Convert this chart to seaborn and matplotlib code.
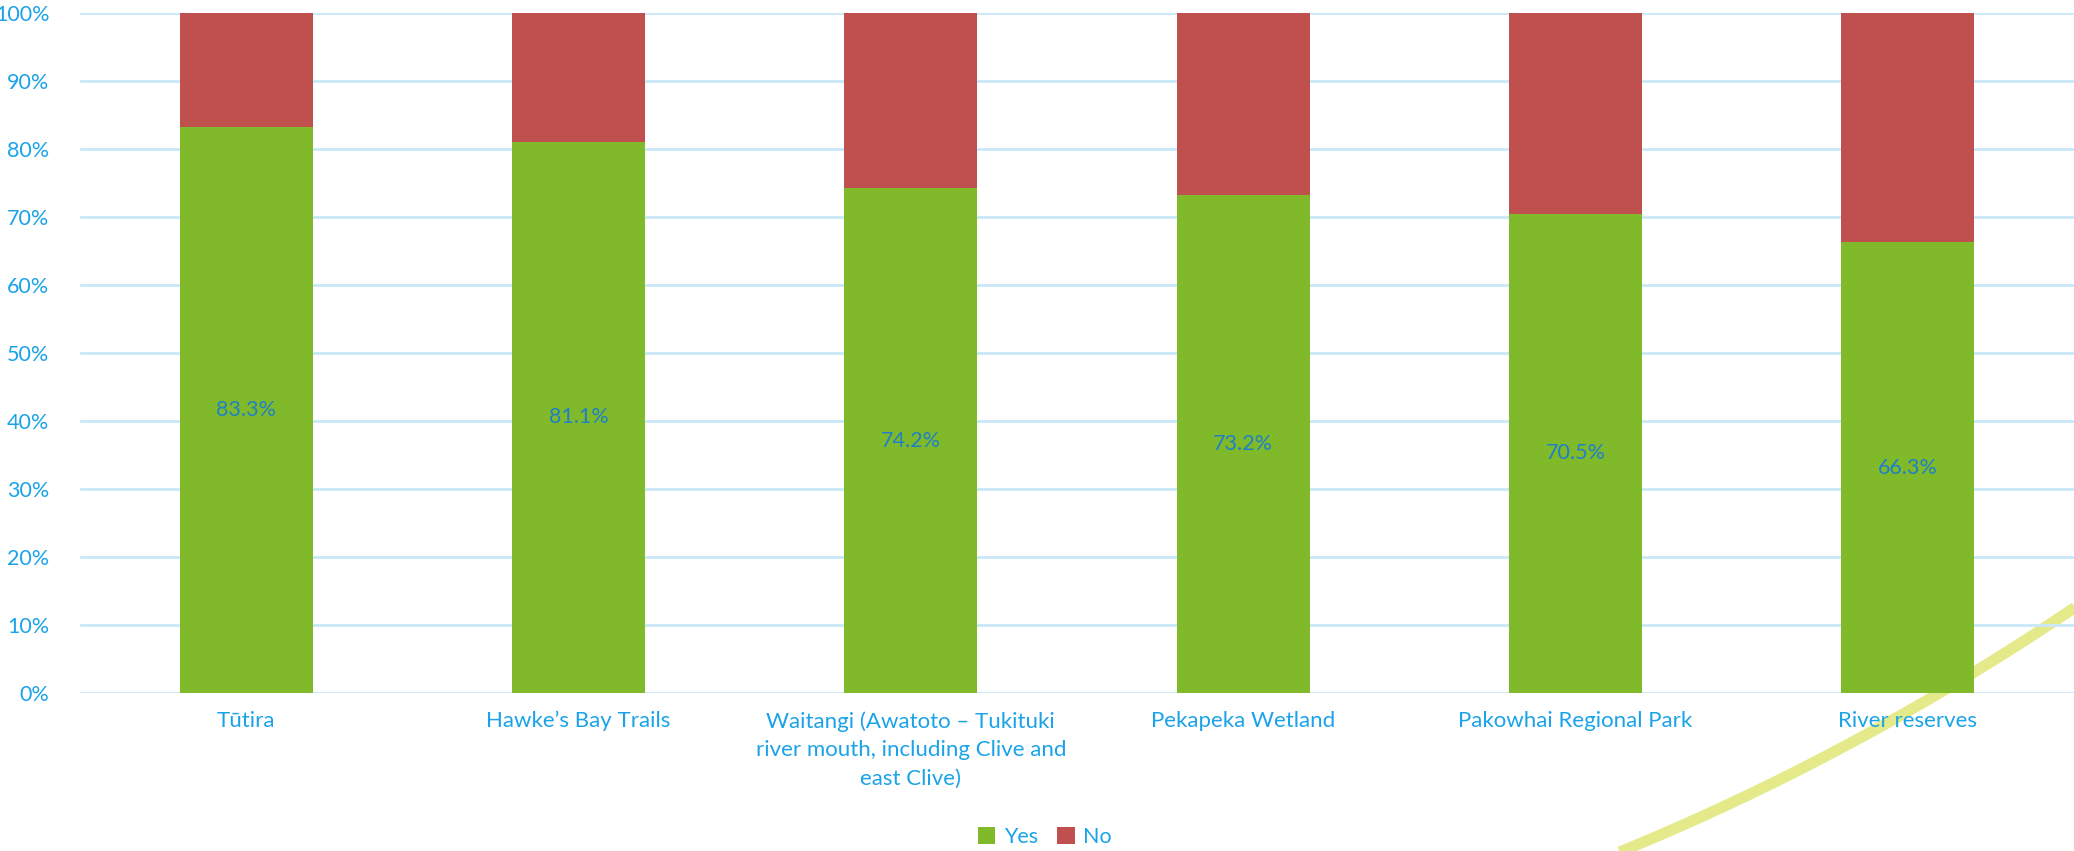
import matplotlib
matplotlib.use("Agg")
import matplotlib.pyplot as plt
from matplotlib.lines import Line2D
from matplotlib.patches import Patch
import seaborn as sns
import pandas as pd
import numpy as np

categories = [
    "Tūtira",
    "Hawke\u2019s Bay Trails",
    "Waitangi (Awatoto \u2013 Tukituki\nriver mouth, including Clive and\neast Clive)",
    "Pekapeka Wetland",
    "Pakowhai Regional Park",
    "River reserves",
]
yes_vals = [83.3, 81.1, 74.2, 73.2, 70.5, 66.3]
no_vals = [round(100 - v, 1) for v in yes_vals]
yticks = [0, 10, 20, 30, 40, 50, 60, 70, 80, 90, 100]

GREEN = "#80b929"
RED = "#c0504d"
BLUE = "#1aa3e8"
LABEL_BLUE = "#1f80c8"
GRID = "#c9e8f8"

sns.set_theme(style="white")
plt.rcParams["font.family"] = ["Lato", "DejaVu Sans"]

df = pd.DataFrame({"cat": categories, "yes": yes_vals, "no": no_vals})
df["total"] = df["yes"] + df["no"]

fig = plt.figure(figsize=(20.74, 8.51), dpi=100)
ax = fig.add_axes([80 / 2074, 1 - 693 / 851, 1 - 80 / 2074, (693 - 13) / 851])
ax.patch.set_alpha(0)

sns.barplot(data=df, x="cat", y="total", color=RED, width=0.4, ax=ax,
            linewidth=0, saturation=1, zorder=3)
sns.barplot(data=df, x="cat", y="yes", color=GREEN, width=0.4, ax=ax,
            linewidth=0, saturation=1, zorder=3)

for i, v in enumerate(yes_vals):
    ax.text(i, v / 2, f"{v:.1f}%", ha="center", va="center",
            color=LABEL_BLUE, fontsize=15.5, zorder=5)

ax.set_ylim(0, 100)
ax.set_xlim(-0.5, len(categories) - 0.5)
ax.set_yticks(yticks)
ax.set_yticklabels([f"{t}%" for t in yticks])
ax.yaxis.grid(True, color=GRID, linewidth=2, zorder=0)
ax.set_axisbelow(True)
for s in ax.spines.values():
    s.set_visible(False)
ax.tick_params(axis="both", length=0, colors=BLUE)
ax.tick_params(axis="y", pad=22, labelsize=15.5)
ax.tick_params(axis="x", pad=13, labelsize=16)
for lbl in ax.get_xticklabels():
    lbl.set_multialignment("center")
    lbl.set_linespacing(1.55)
ax.set_xlabel("")
ax.set_ylabel("")

# decorative swoosh (smooth quadratic curve)
t = np.linspace(0, 1, 200)
p0 = np.array([1600, 860]); p1 = np.array([1850, 760]); p2 = np.array([2080, 604])
pts = ((1 - t) ** 2)[:, None] * p0 + (2 * (1 - t) * t)[:, None] * p1 + (t ** 2)[:, None] * p2
fig.add_artist(Line2D(pts[:, 0] / 2074, 1 - pts[:, 1] / 851, transform=fig.transFigure,
                      color="#e2e87c", linewidth=8, alpha=0.9, solid_capstyle="butt", zorder=-1))

handles = [Patch(facecolor=GREEN, edgecolor="none"), Patch(facecolor=RED, edgecolor="none")]
leg = fig.legend(handles, ["Yes", "No"], loc="center", bbox_to_anchor=(1045 / 2074, 1 - 837 / 851),
                 ncol=2, frameon=False, fontsize=15.5, handlelength=0.8, handleheight=0.8,
                 handletextpad=0.4, columnspacing=0.9, borderaxespad=0)
for tx in leg.get_texts():
    tx.set_color(BLUE)

fig.savefig("out.png", dpi=100)
